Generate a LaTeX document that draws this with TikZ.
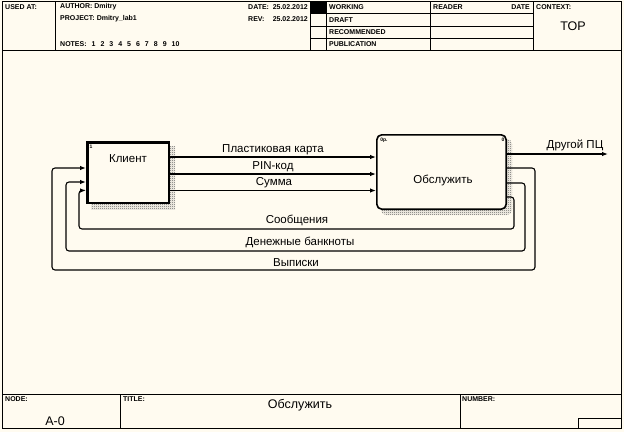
\documentclass[tikz,border=0pt]{standalone}
\usepackage{fontspec}
\setmainfont{Liberation Sans}
\usetikzlibrary{arrows.meta,patterns}
\definecolor{bg}{RGB}{255,251,240}
\newcommand{\ns}{\hspace{5pt}}
\pgfdeclarepatternformonly{checkdots}{\pgfqpoint{0pt}{0pt}}{\pgfqpoint{2pt}{2pt}}{\pgfqpoint{2pt}{2pt}}{%
  \pgfpathrectangle{\pgfqpoint{0pt}{0pt}}{\pgfqpoint{1pt}{1pt}}%
  \pgfpathrectangle{\pgfqpoint{1pt}{1pt}}{\pgfqpoint{1pt}{1pt}}%
  \pgfusepath{fill}}
\begin{document}
\begin{tikzpicture}[x=1pt,y=-1pt,
  hdr/.style={font=\fontsize{7}{8}\selectfont\bfseries, inner sep=0pt, anchor=west},
  lbl/.style={font=\fontsize{11.5}{13}\selectfont, inner sep=0pt},
  big/.style={font=\fontsize{12.5}{14}\selectfont, inner sep=0pt},
  tinyl/.style={font=\fontsize{5}{5}\selectfont\bfseries, inner sep=0pt},
  frame/.style={line width=1pt},
  flow/.style={line width=1.1pt, rounded corners=3pt},
  arr/.style={-{Latex[length=6pt,width=4.5pt]}},
  shadowfill/.style={pattern=checkdots, pattern color=black!65},
]
\fill[bg] (0,0) rectangle (624,432);
\useasboundingbox (0,0) rectangle (624,432);
% ---- frame and header
\draw[frame] (2,1) rectangle (621,428);
\draw[frame] (2,50) -- (621,50);
\foreach \x in {55,310,326,430,533} \draw[frame] (\x,1) -- (\x,50);
\foreach \y in {13,26,38} \draw[frame] (310,\y) -- (533,\y);
\fill (310,1) rectangle (326,13);
\node[hdr] (usedat) at (5,7) {USED AT:};
\node[hdr] (author) at (60,7) {AUTHOR: Dmitry};
\node[hdr] (project) at (60,19) {PROJECT: Dmitry\_lab1};
\node[hdr] (notes) at (60,44) {NOTES:\ns 1\ns 2\ns 3\ns 4\ns 5\ns 6\ns 7\ns 8\ns 9\ns 10};
\node[hdr] (date) at (248,7) {DATE:};
\node[hdr, anchor=east] (dateval) at (308,7) {25.02.2012};
\node[hdr] (rev) at (248,19) {REV:};
\node[hdr, anchor=east] (revval) at (308,19) {25.02.2012};
\node[hdr] (working) at (329,7) {WORKING};
\node[hdr] (draft) at (329,20) {DRAFT};
\node[hdr] (recom) at (329,32) {RECOMMENDED};
\node[hdr] (publ) at (329,44) {PUBLICATION};
\node[hdr] (reader) at (433,7) {READER};
\node[hdr, anchor=east] (rdate) at (530,7) {DATE};
\node[hdr] (context) at (536,7) {CONTEXT:};
\node[big] (top) at (573,26) {TOP};
% ---- footer
\draw[frame] (2,394) -- (621,394);
\draw[frame] (120,394) -- (120,428);
\draw[frame] (460,394) -- (460,428);
\draw[frame] (578,428) -- (578,418) -- (621,418);
\node[hdr] (nodel) at (5,399) {NODE:};
\node[big] (nodeval) at (55,421) {A-0};
\node[hdr] (titlel) at (123,399) {TITLE:};
\node[big] (titleval) at (300,405) {Обслужить};
\node[hdr] (numberl) at (462,399) {NUMBER:};
% ---- boxes
\fill[shadowfill] (91,146) rectangle (175,209);
\node[draw, line width=2.5pt, fill=bg, minimum width=81.5pt, minimum height=60.5pt, inner sep=0pt] (client) at (128,172.5) {};
\node[lbl] (clientlbl) at (128,159) {Клиент};
\node[tinyl] (clientnum) at (91,147) {1};
\fill[shadowfill, rounded corners=5pt] (381,139) rectangle (512,215);
\node[draw, line width=1.6pt, fill=bg, rounded corners=5pt, minimum width=129.4pt, minimum height=74.4pt, inner sep=0pt] (serve) at (441.5,172) {};
\node[lbl] (servelbl) at (443,180) {Обслужить};
\node[tinyl] (servecost) at (384,140.5) {0р.};
\node[tinyl] (servenum) at (503,140) {0};
% ---- port levels
\coordinate (a1) at (0,157);
\coordinate (a2) at (0,174);
\coordinate (a3) at (0,190.5);
\coordinate (b1) at (0,168);
\coordinate (b2) at (0,182);
\coordinate (b3) at (0,190.5);
\coordinate (r1) at (0,168);
\coordinate (r2) at (0,183);
\coordinate (r3) at (0,197);
\coordinate (o1) at (0,154);
\coordinate (outend) at (608,154);
% ---- arrows client -> serve
\draw[flow,arr] (client.east |- a1) -- (serve.west |- a1);
\draw[flow,arr] (client.east |- a2) -- (serve.west |- a2);
\draw[flow,arr] (client.east |- a3) -- (serve.west |- a3);
\node[lbl] (l1) at (273,150) {Пластиковая карта};
\node[lbl] (l2) at (273,166.5) {PIN-код};
\node[lbl] (l3) at (274,183) {Сумма};
% ---- feedback loops serve -> client
\draw[flow,arr] (serve.east |- r1) -- (535,168) -- (535,270) -- (52,270) -- (52,168) -- (client.west |- b1);
\draw[flow,arr] (serve.east |- r2) -- (525,183) -- (525,251) -- (66,251) -- (66,182) -- (client.west |- b2);
\draw[flow,arr] (serve.east |- r3) -- (514,197) -- (514,229) -- (79,229) -- (79,190.5) -- (client.west |- b3);
\node[lbl] (l4) at (297,220) {Сообщения};
\node[lbl] (l5) at (300,242) {Денежные банкноты};
\node[lbl] (l6) at (296,263) {Выписки};
% ---- output
\draw[flow,arr] (serve.east |- o1) -- (outend);
\node[lbl] (l7) at (575,145) {Другой ПЦ};
\end{tikzpicture}
\end{document}
